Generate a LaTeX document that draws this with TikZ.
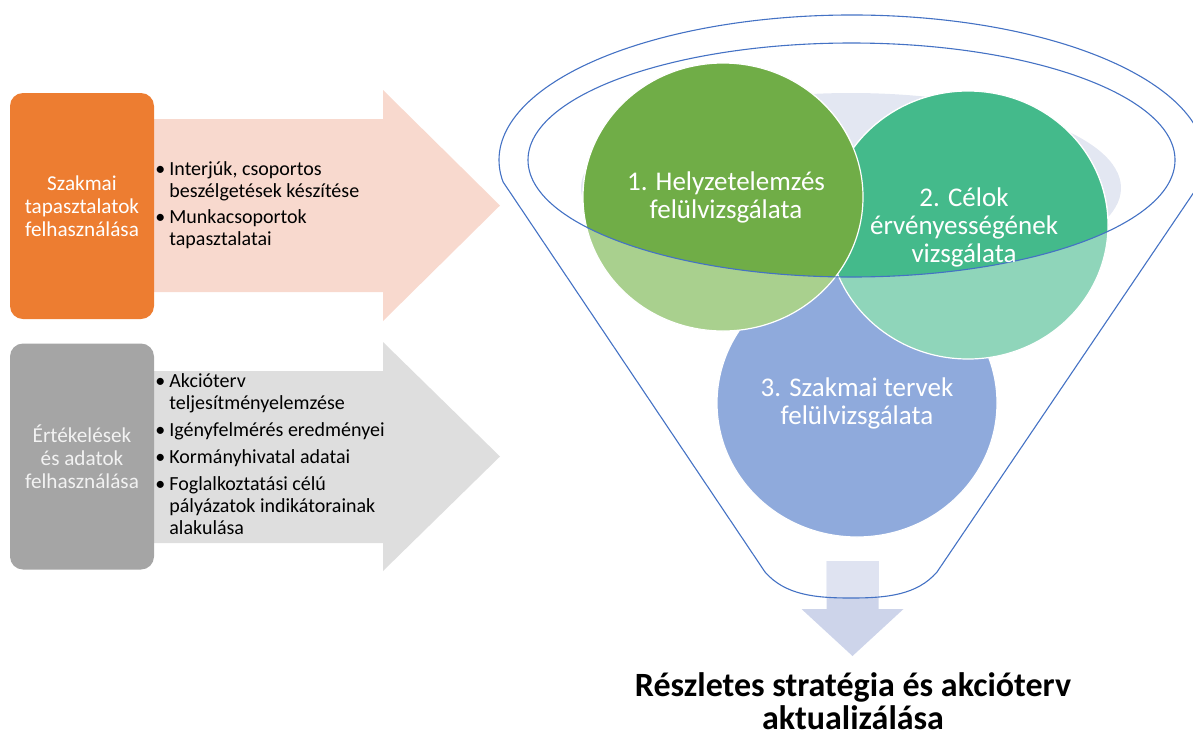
\documentclass[tikz,border=0pt]{standalone}
\usepackage{fontspec}
\setmainfont{Carlito}
\usepackage{tikz}
\usetikzlibrary{calc}
\usepackage{xcolor}

\definecolor{expOrange}{HTML}{ED7D31}
\definecolor{expPink}{HTML}{F8D9CE}
\definecolor{dataGrey}{HTML}{A5A5A5}
\definecolor{dataLight}{HTML}{DEDEDE}
\definecolor{backLav}{HTML}{E3E7F2}
\definecolor{stageBlue}{HTML}{8FAADC}
\definecolor{tealDark}{HTML}{44BA8B}
\definecolor{tealLight}{HTML}{8FD5BA}
\definecolor{greenDark}{HTML}{70AD47}
\definecolor{greenLight}{HTML}{A9D08E}
\definecolor{funnelBlue}{HTML}{4472C4}
\definecolor{outArrow}{HTML}{CDD4EA}
\definecolor{outArrowLt}{HTML}{DFE3F1}

\newcommand{\lbul}{\makebox[7pt][l]{\textbullet}}
\newcommand{\funnelpath}{(1200.9,-181.9) arc[start angle=-8.7, end angle=188.7, x radius=353, y radius=145]
  -- (765,-572) .. controls (785,-595) and (815,-598) .. (851,-598)
  .. controls (887,-598) and (917,-595) .. (937,-572) -- cycle}

\begin{document}
\begin{tikzpicture}[x=0.5pt, y=0.5pt,
    srcbox/.style={rounded corners=6.5pt, minimum width=72pt, minimum height=113pt,
                   inner sep=2pt, align=center, font=\fontsize{10.6}{11.4}\selectfont},
    blist/.style={anchor=west, inner sep=0pt, font=\fontsize{10}{11}\selectfont},
    ring/.style={draw=white, line width=0.6pt},
    stagetxt/.style={text=white, align=center, inner sep=0pt, font=\fontsize{13.5}{14}\selectfont},
    funnel/.style={draw=funnelBlue, line width=0.55pt},
    resultlbl/.style={align=center, inner sep=0pt, font=\fontsize{17}{16.5}\selectfont\bfseries}
  ]
    \useasboundingbox (0,0) rectangle (1193,-735);
    \clip (0,0) rectangle (1193,-735);

    \fill[expPink]   (120,-119) -- (383,-119) -- (383,-90) -- (500,-205.5)
                     -- (383,-321) -- (383,-292) -- (120,-292) -- cycle;
    \fill[dataLight] (120,-371) -- (383,-371) -- (383,-342) -- (500,-456.5)
                     -- (383,-571) -- (383,-543) -- (120,-543) -- cycle;

    \node[srcbox, fill=expOrange, text=white] (exp) at (82,-206)
         {Szakmai\\tapasztalatok\\felhasználása};
    \node[srcbox, fill=dataGrey, text=white!95!black] (data) at (82,-456.5)
         {Értékelések\\és adatok\\felhasználása};

    \node[blist] (explist) at (155,-206) {\begin{tabular}{@{}l@{}l@{}}
        \lbul & Interjúk, csoportos\\
              & beszélgetések készítése\\[2pt]
        \lbul & Munkacsoportok\\
              & tapasztalatai
      \end{tabular}};
    \node[blist] (datalist) at (155,-457) {\begin{tabular}{@{}l@{}l@{}}
        \lbul & Akcióterv\\
              & teljesítményelemzése\\[2.5pt]
        \lbul & Igényfelmérés eredményei\\[2.5pt]
        \lbul & Kormányhivatal adatai\\[2.5pt]
        \lbul & Foglalkoztatási célú\\
              & pályázatok indikátorainak\\
              & alakulása
      \end{tabular}};

    \fill[outArrow] (826.5,-561) -- (878.5,-561) -- (878.5,-609) -- (903.5,-609)
                    -- (852.5,-656) -- (801.5,-609) -- (826.5,-609) -- cycle;
    \begin{scope}
      \clip \funnelpath;
      \fill[outArrowLt] (826.5,-561) rectangle (878.5,-609);
    \end{scope}

    \coordinate (rim) at (851.5,-160);
    \coordinate (c1) at (723,-197);
    \coordinate (c2) at (968,-225);
    \coordinate (c3) at (857,-403);

    \fill[backLav] (851,-188) ellipse [x radius=270, y radius=95];

    \filldraw[ring, fill=stageBlue]  (c3) ellipse [x radius=140, y radius=134];
    \filldraw[ring, fill=tealLight]  (c2) ellipse [x radius=140, y radius=134];
    \filldraw[ring, fill=greenLight] (c1) ellipse [x radius=140, y radius=134];
    \begin{scope}
      \clip (rim) ellipse [x radius=323.5, y radius=117];
      \filldraw[ring, fill=tealDark]  (c2) ellipse [x radius=140, y radius=134];
      \filldraw[ring, fill=greenDark] (c1) ellipse [x radius=140, y radius=134];
    \end{scope}

    \draw[funnel] \funnelpath;
    \draw[funnel] (rim) ellipse [x radius=323.5, y radius=117];

    \node[stagetxt] (sit)  at (726,-197) {1. Helyzetelemzés\\felülvizsgálata};
    \node[stagetxt] (goal) at (964,-227) {2. Célok\\érvényességének\\vizsgálata};
    \node[stagetxt] (plan) at (857,-403) {3. Szakmai tervek\\felülvizsgálata};

    \node[resultlbl] (result) at (853,-701) {Részletes stratégia és akcióterv\\aktualizálása};
\end{tikzpicture}
\end{document}
